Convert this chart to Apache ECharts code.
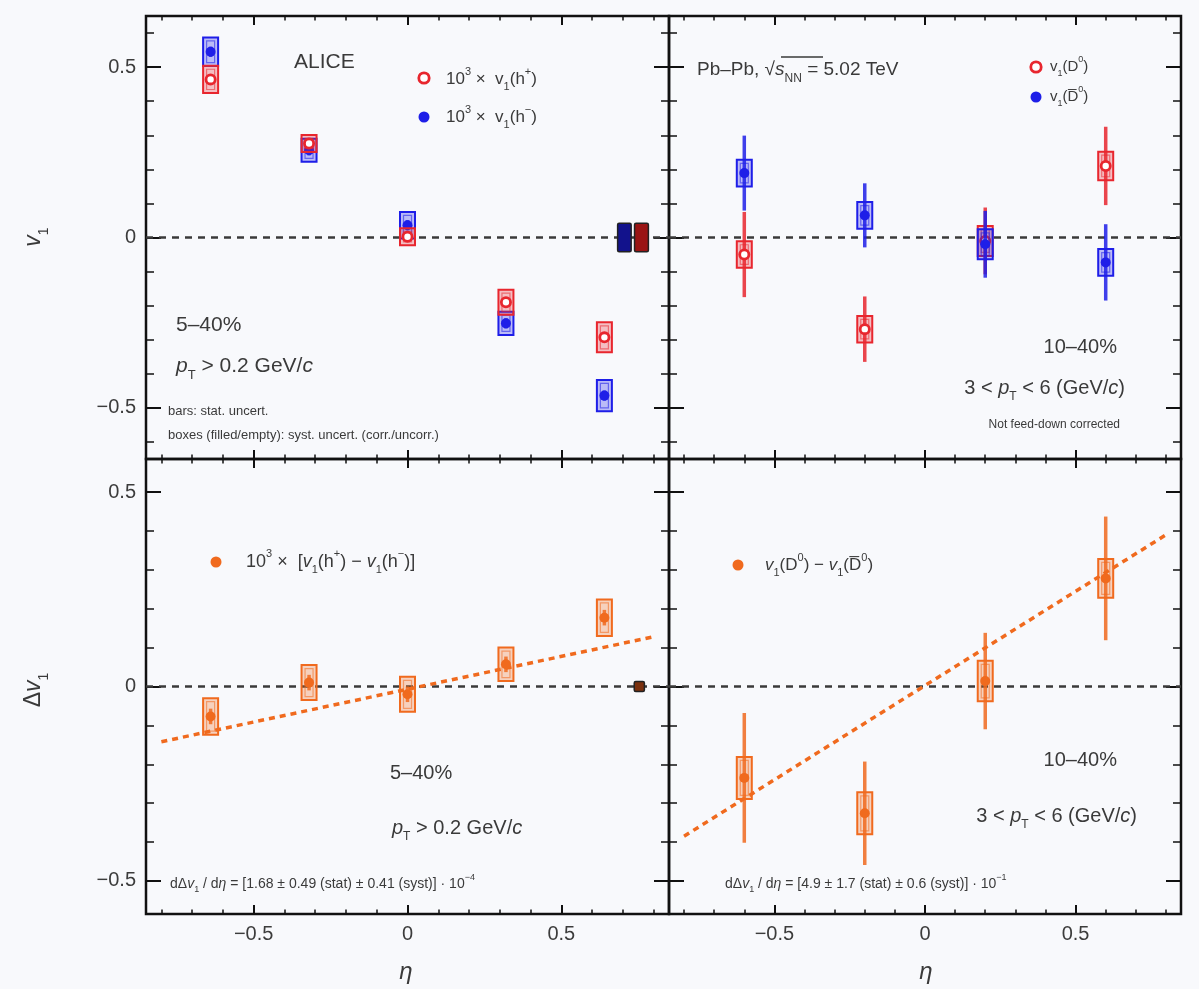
<!DOCTYPE html>
<html><head><meta charset="utf-8">
<script src="https://cdn.jsdelivr.net/npm/echarts@6.0.0/dist/echarts.min.js"></script>
<style>html,body{margin:0;padding:0;background:#f8f9fc;}#c{width:1199px;height:989px;}</style>
</head><body><div id="c"></div><script>
// ---------------- DATA ----------------
// top-left: charged hadrons, 10^3 x v1 vs eta
const etaH = [-0.64, -0.32, 0.0, 0.32, 0.64];
const v1HPos = [0.464, 0.276, 0.002, -0.190, -0.293];
const v1HPosStat = [0.015, 0.015, 0.015, 0.015, 0.015];
const v1HPosSyst = [0.040, 0.025, 0.025, 0.037, 0.044];
const v1HNeg = [0.545, 0.256, 0.036, -0.252, -0.464];
const v1HNegStat = [0.015, 0.015, 0.015, 0.015, 0.015];
const v1HNegSyst = [0.042, 0.034, 0.039, 0.034, 0.046];
const corrSystHNeg = [0.683, 0.727, -0.042, 0.042];
const corrSystHPos = [0.738, 0.783, -0.042, 0.042];
// top-right: D0 and anti-D0 v1 vs eta
const etaD = [-0.6, -0.2, 0.2, 0.6];
const v1D0 = [-0.050, -0.269, -0.010, 0.210];
const v1D0Stat = [0.125, 0.096, 0.098, 0.115];
const v1D0Syst = [0.039, 0.039, 0.044, 0.042];
const v1D0bar = [0.189, 0.065, -0.020, -0.073];
const v1D0barStat = [0.110, 0.094, 0.098, 0.112];
const v1D0barSyst = [0.039, 0.039, 0.044, 0.039];
// bottom-left: hadron difference
const dV1H = [-0.077, 0.010, -0.020, 0.057, 0.177];
const dV1HStat = [0.020, 0.020, 0.020, 0.020, 0.020];
const dV1HSyst = [0.047, 0.045, 0.045, 0.043, 0.047];
const corrSystDH = [0.737, 0.770, -0.013, 0.013];
const fitH = [[-0.8, -0.142], [0.8, 0.128]];
// bottom-right: D difference
const dV1D = [-0.235, -0.326, 0.014, 0.278];
const dV1DStat = [0.167, 0.133, 0.124, 0.159];
const dV1DSyst = [0.054, 0.054, 0.052, 0.050];
const fitD = [[-0.8, -0.385], [0.8, 0.390]];
// axes
const xRange = [-0.85, 0.85];
const yTopRange = [-0.65, 0.65];
const yBotRange = [-0.585, 0.585];
const xMajorTicks = [-0.5, 0, 0.5];
const xMinorTicks = [-0.8,-0.7,-0.6,-0.5,-0.4,-0.3,-0.2,-0.1,0,0.1,0.2,0.3,0.4,0.5,0.6,0.7,0.8];
const yMajorTicks = [-0.5, 0, 0.5];
const yTopMinorTicks = [-0.6,-0.5,-0.4,-0.3,-0.2,-0.1,0,0.1,0.2,0.3,0.4,0.5,0.6];
const yBotMinorTicks = [-0.5,-0.4,-0.3,-0.2,-0.1,0,0.1,0.2,0.3,0.4,0.5];

// ---------------- STYLE ----------------
const FF = 'Liberation Sans, Arial, DejaVu Sans, sans-serif';
const RED = '#e8262e', BLUE = '#1e1ee8', ORANGE = '#f06a1e';
const TXT = '#3a3a3a';

function fmt(v){ if (Math.abs(v) < 1e-9) return '0'; return (v < 0 ? '\u2212' : '') + Math.abs(v); }

function axesFor(dim, grid, range, minors, labels){
  const isX = dim === 'x';
  const pos = isX ? ['bottom','top'] : ['left','right'];
  const majLen = isX ? 9 : 15, minLen = isX ? 4.5 : 8;
  const majors = isX ? xMajorTicks : yMajorTicks;
  const out = [];
  pos.forEach((p, k) => {
    out.push({type:'value', gridIndex:grid, min:range[0], max:range[1], position:p,
      axisLine:{show:false, onZero:false}, splitLine:{show:false},
      axisTick:{show:true, inside:true, length:majLen, customValues:majors, lineStyle:{color:'#111', width:2}},
      axisLabel:(labels && k===0) ? {show:true, customValues:majors, formatter:fmt, fontSize:20, color:'#3c3c3c', fontFamily:FF, margin:10} : {show:false}
    });
    out.push({type:'value', gridIndex:grid, min:range[0], max:range[1], position:p,
      axisLine:{show:false, onZero:false}, splitLine:{show:false},
      axisTick:{show:true, inside:true, length:minLen, customValues:minors, lineStyle:{color:'#111', width:1.5}},
      axisLabel:{show:false}
    });
  });
  return out;
}

const grids = [
  {left:146, top:16, width:523, height:443},
  {left:669, top:16, width:512, height:443},
  {left:146, top:459, width:523, height:455},
  {left:669, top:459, width:512, height:455}
].map(g => Object.assign(g, {show:true, borderColor:'#111', borderWidth:2.5, backgroundColor:'transparent'}));

const xAxes = [].concat(
  axesFor('x',0,xRange,xMinorTicks,false), axesFor('x',1,xRange,xMinorTicks,false),
  axesFor('x',2,xRange,xMinorTicks,true), axesFor('x',3,xRange,xMinorTicks,true));
const yAxes = [].concat(
  axesFor('y',0,yTopRange,yTopMinorTicks,true), axesFor('y',1,yTopRange,yTopMinorTicks,false),
  axesFor('y',2,yBotRange,yBotMinorTicks,true), axesFor('y',3,yBotRange,yBotMinorTicks,false));

function rgba(hex, a){
  const n = parseInt(hex.slice(1),16);
  return 'rgba(' + ((n>>16)&255) + ',' + ((n>>8)&255) + ',' + (n&255) + ',' + a + ')';
}

function pointsSeries(grid, xs, ys, stat, syst, color, open, z){
  const data = xs.map((x,i) => [x, ys[i], stat[i], syst[i]]);
  return {type:'custom', xAxisIndex:grid*4, yAxisIndex:grid*4, z:z||3, data:data,
    renderItem:function(params, api){
      const x = api.value(0), y = api.value(1), st = api.value(2), sy = api.value(3);
      const c = api.coord([x,y]);
      const t = api.coord([x, y+st]), b = api.coord([x, y-st]);
      const bt = api.coord([x, y+sy]), bb = api.coord([x, y-sy]);
      const hw = 7.5;
      return {type:'group', children:[
        {type:'line', shape:{x1:c[0], y1:t[1], x2:c[0], y2:b[1]}, style:{stroke:rgba(color,0.85), lineWidth:3.5}},
        {type:'rect', shape:{x:c[0]-hw, y:bt[1], width:2*hw, height:bb[1]-bt[1]}, style:{fill:rgba(color,0.28), stroke:color, lineWidth:2}},
        {type:'rect', shape:{x:c[0]-hw+3.5, y:bt[1]+3.5, width:2*hw-7, height:Math.max(0,bb[1]-bt[1]-7)}, style:{fill:'none', stroke:rgba(color,0.55), lineWidth:1.2}},
        {type:'circle', shape:{cx:c[0], cy:c[1], r:open?4.6:5}, style: open ? {fill:'#ffffff', stroke:color, lineWidth:2.8} : {fill:color}}
      ]};
    }};
}

function corrBoxSeries(grid, box, fill){
  return {type:'custom', xAxisIndex:grid*4, yAxisIndex:grid*4, z:4, data:[box],
    renderItem:function(params, api){
      const p0 = api.coord([api.value(0), api.value(3)]);
      const p1 = api.coord([api.value(1), api.value(2)]);
      return {type:'rect', shape:{x:p0[0], y:p0[1], width:p1[0]-p0[0], height:p1[1]-p0[1], r:1.5}, style:{fill:fill, stroke:'#222', lineWidth:1.5}};
    }};
}

function zeroLine(grid){
  return {type:'line', xAxisIndex:grid*4, yAxisIndex:grid*4, z:1, symbol:'none', silent:true,
    data:[[xRange[0],0],[xRange[1],0]], lineStyle:{color:'#3a3a3a', width:2.5, type:[7,6]}};
}
function fitLine(grid, pts){
  return {type:'line', xAxisIndex:grid*4, yAxisIndex:grid*4, z:2, symbol:'none', silent:true,
    data:pts, lineStyle:{color:ORANGE, width:3.5, type:[6,5]}};
}

const series = [
  zeroLine(0), zeroLine(1), zeroLine(2), zeroLine(3),
  fitLine(2, fitH), fitLine(3, fitD),
  pointsSeries(0, etaH, v1HNeg, v1HNegStat, v1HNegSyst, BLUE, false, 3),
  pointsSeries(0, etaH, v1HPos, v1HPosStat, v1HPosSyst, RED, true, 4),
  corrBoxSeries(0, corrSystHNeg, '#12128c'),
  corrBoxSeries(0, corrSystHPos, '#9a1414'),
  pointsSeries(1, etaD, v1D0, v1D0Stat, v1D0Syst, RED, true, 3),
  pointsSeries(1, etaD, v1D0bar, v1D0barStat, v1D0barSyst, BLUE, false, 4),
  pointsSeries(2, etaH, dV1H, dV1HStat, dV1HSyst, ORANGE, false, 3),
  corrBoxSeries(2, corrSystDH, '#7a300e'),
  pointsSeries(3, etaD, dV1D, dV1DStat, dV1DSyst, ORANGE, false, 3)
];

// ---------------- TEXT ----------------
function toRich(s){
  let out = '', buf = '', i = 0;
  const flush = () => { if (buf) { out += '{n|' + buf + '}'; buf = ''; } };
  while (i < s.length){
    const ch = s[i];
    if ((ch === '^' || ch === '_') && s[i+1] === '{'){
      flush(); const j = s.indexOf('}', i);
      out += '{' + (ch === '^' ? 'sp' : 'sb') + '|' + s.slice(i+2, j) + '}'; i = j+1;
    } else if (ch === '*'){
      flush(); const j = s.indexOf('*', i+1);
      out += '{i|' + s.slice(i+1, j) + '}'; i = j+1;
    } else { buf += ch; i++; }
  }
  flush(); return out;
}
function txt(x, y, s, size, opt){
  opt = opt || {};
  const col = opt.color || TXT;
  const lh = Math.round(size*1.5), ss = Math.round(size*0.62);
  return {type:'text', x:x, y:y, z:100, silent:true, rotation:opt.rot||0,
    style:{text:toRich(s), fill:col, fontFamily:FF, fontSize:size, align:opt.align||'left', verticalAlign:'middle',
      rich:{
        n:{fontSize:size, fontFamily:FF, fill:col, color:col, lineHeight:lh, verticalAlign:'middle'},
        i:{fontSize:size, fontFamily:FF, fontStyle:'italic', fill:col, color:col, lineHeight:lh, verticalAlign:'middle'},
        sb:{fontSize:ss, fontFamily:FF, fill:col, color:col, lineHeight:ss+2, verticalAlign:'bottom'},
        sp:{fontSize:ss, fontFamily:FF, fill:col, color:col, lineHeight:ss+2, verticalAlign:'top'}
      }}};
}
function dot(cx, cy, color, open){
  return {type:'circle', z:100, silent:true, shape:{cx:cx, cy:cy, r:open?5.2:5.5},
    style: open ? {fill:'#fff', stroke:color, lineWidth:2.8} : {fill:color}};
}

const graphics = [
  // top-left
  txt(294, 62, 'ALICE', 21),
  dot(424, 78, RED, true), txt(446, 79, '10^{3} ×  v_{1}(h^{+})', 17),
  dot(424, 117, BLUE, false), txt(446, 117, '10^{3} ×  v_{1}(h^{\u2212})', 17),
  txt(176, 325, '5\u201340%', 21),
  txt(176, 366, '*p*_{T} > 0.2 GeV/*c*', 21),
  txt(168, 411, 'bars: stat. uncert.', 13),
  txt(168, 435, 'boxes (filled/empty): syst. uncert. (corr./uncorr.)', 13),
  // top-right
  txt(697, 70, 'Pb\u2013Pb, \u221A*s*_{NN} = 5.02 TeV', 19),
  {type:'line', z:100, silent:true, shape:{x1:781, y1:57, x2:823, y2:57}, style:{stroke:TXT, lineWidth:1.5}},
  dot(1036, 67, RED, true), txt(1050, 67, 'v_{1}(D^{0})', 15),
  dot(1036, 97, BLUE, false), txt(1050, 97, 'v_{1}(D\u0305^{0})', 15),
  txt(1117, 347, '10\u201340%', 20, {align:'right'}),
  txt(1125, 388, '3 < *p*_{T} < 6 (GeV/*c*)', 20, {align:'right'}),
  txt(1120, 425, 'Not feed-down corrected', 12, {align:'right'}),
  // bottom-left
  dot(216, 562, ORANGE, false), txt(246, 562, '10^{3} ×  [*v*_{1}(h^{+}) \u2212 *v*_{1}(h^{\u2212})]', 18),
  txt(390, 773, '5\u201340%', 20),
  txt(392, 828, '*p*_{T} > 0.2 GeV/*c*', 20),
  txt(170, 884, 'd\u0394*v*_{1} / d*\u03B7* = [1.68 ± 0.49 (stat) ± 0.41 (syst)] · 10^{\u22124}', 14),
  // bottom-right
  dot(738, 565, ORANGE, false), txt(765, 565, '*v*_{1}(D^{0}) \u2212 *v*_{1}(D\u0305^{0})', 17),
  txt(1117, 760, '10\u201340%', 20, {align:'right'}),
  txt(1137, 816, '3 < *p*_{T} < 6 (GeV/*c*)', 20, {align:'right'}),
  txt(725, 884, 'd\u0394*v*_{1} / d*\u03B7* = [4.9 ± 1.7 (stat) ± 0.6 (syst)] · 10^{\u22121}', 14),
  // axis titles
  txt(34, 237, '*v*_{1}', 23, {align:'center', rot:Math.PI/2}),
  txt(34, 690, '\u0394*v*_{1}', 23, {align:'center', rot:Math.PI/2}),
  txt(406, 972, '*\u03B7*', 24, {align:'center'}),
  txt(926, 972, '*\u03B7*', 24, {align:'center'})
];

const chart = echarts.init(document.getElementById('c'), null, {renderer:'canvas'});
chart.setOption({
  backgroundColor:'#f8f9fc',
  animation:false,
  grid:grids, xAxis:xAxes, yAxis:yAxes, series:series, graphic:graphics
});
</script></body></html>
